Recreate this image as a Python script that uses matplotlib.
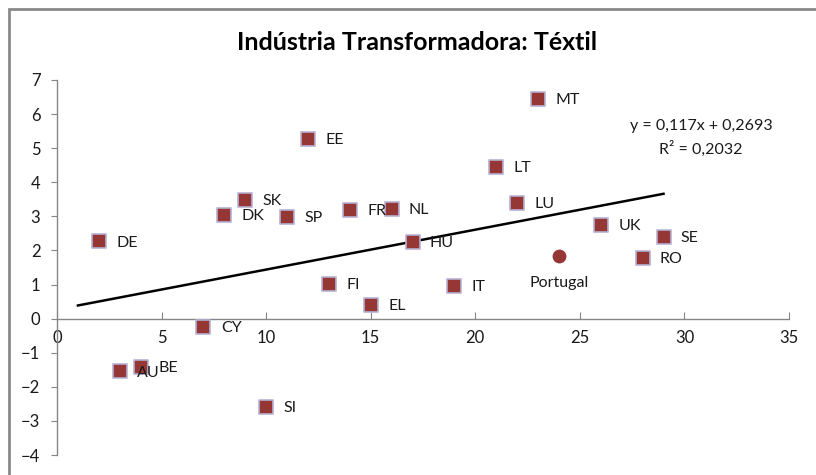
import matplotlib
matplotlib.use("Agg")
import matplotlib.pyplot as plt
from matplotlib.patches import Rectangle
import numpy as np

plt.rcParams['font.family'] = ['Lato', 'DejaVu Sans']

countries = ["DE", "AU", "BE", "CY", "DK", "SK", "SI", "SP", "EE", "FI", "FR", "EL",
             "NL", "HU", "IT", "LT", "LU", "MT", "UK", "RO", "SE"]
x_vals = [2, 3, 4, 7, 8, 9, 10, 11, 12, 13, 14, 15, 16, 17, 19, 21, 22, 23, 26, 28, 29]
y_vals = [2.27, -1.55, -1.41, -0.24, 3.05, 3.49, -2.58, 2.99, 5.28, 1.03, 3.20, 0.41,
          3.23, 2.26, 0.97, 4.46, 3.40, 6.45, 2.76, 1.79, 2.40]
portugal_x = [24]
portugal_y = [1.85]
slope = 0.117
intercept = 0.2693
r2 = 0.2032
trend_x = [1, 29]

fig = plt.figure(figsize=(8.16, 4.75), dpi=100)
ax = fig.add_axes([57/816, 1 - 455/475, (789 - 57)/816, (455 - 80)/475])

red = "#953735"
edge = "#b7b0d2"
ax.scatter(x_vals, y_vals, marker='s', s=95, color=red, edgecolor=edge, linewidth=1.2, zorder=3)
ax.scatter(portugal_x, portugal_y, marker='o', s=80, color=red, edgecolor=red, zorder=3)

tx = np.array(trend_x, dtype=float)
ax.plot(tx, slope * tx + intercept, color='black', lw=1.8, zorder=2)

for c, xv, yv in zip(countries, x_vals, y_vals):
    ax.annotate(c, (xv, yv), xytext=(12.5, -1), textcoords='offset points',
                ha='left', va='center', fontsize=11.5, color='#1a1a1a')
ax.annotate("Portugal", (portugal_x[0], portugal_y[0]), xytext=(0, -20), textcoords='offset points',
            ha='center', va='center', fontsize=11.5, color='#1a1a1a')

ax.text(30.8, 5.65, "y = 0,117x + 0,2693", ha='center', va='center', fontsize=11.5, color='#1a1a1a')
ax.text(30.8, 4.98, "R² = 0,2032", ha='center', va='center', fontsize=11.5, color='#1a1a1a')

ax.set_xlim(0, 35)
ax.set_ylim(-4, 7)
ax.set_xticks(range(0, 36, 5))
ax.set_yticks(range(-4, 8))
ax.spines['top'].set_visible(False)
ax.spines['right'].set_visible(False)
ax.spines['bottom'].set_position(('data', 0))
for s in ('left', 'bottom'):
    ax.spines[s].set_color('#868686')
    ax.spines[s].set_linewidth(1.0)
ax.tick_params(axis='x', direction='in', length=5, color='#868686', labelsize=12, pad=8, labelcolor='#1a1a1a')
ax.tick_params(axis='y', direction='out', length=4, color='#868686', labelsize=12, pad=8, labelcolor='#1a1a1a')
ax.patch.set_alpha(0)

fig.text(417/816, 1 - 43/475, "Indústria Transformadora: Téxtil", ha='center', va='center',
         fontsize=18, fontweight='bold', color='black')

fig.patches.append(Rectangle((9/816, -0.1), 1.1, 1 - 9/475 + 0.1, transform=fig.transFigure,
                             fill=False, edgecolor='#8a8a8a', lw=2, clip_on=False))

fig.savefig("out.png", dpi=100)
